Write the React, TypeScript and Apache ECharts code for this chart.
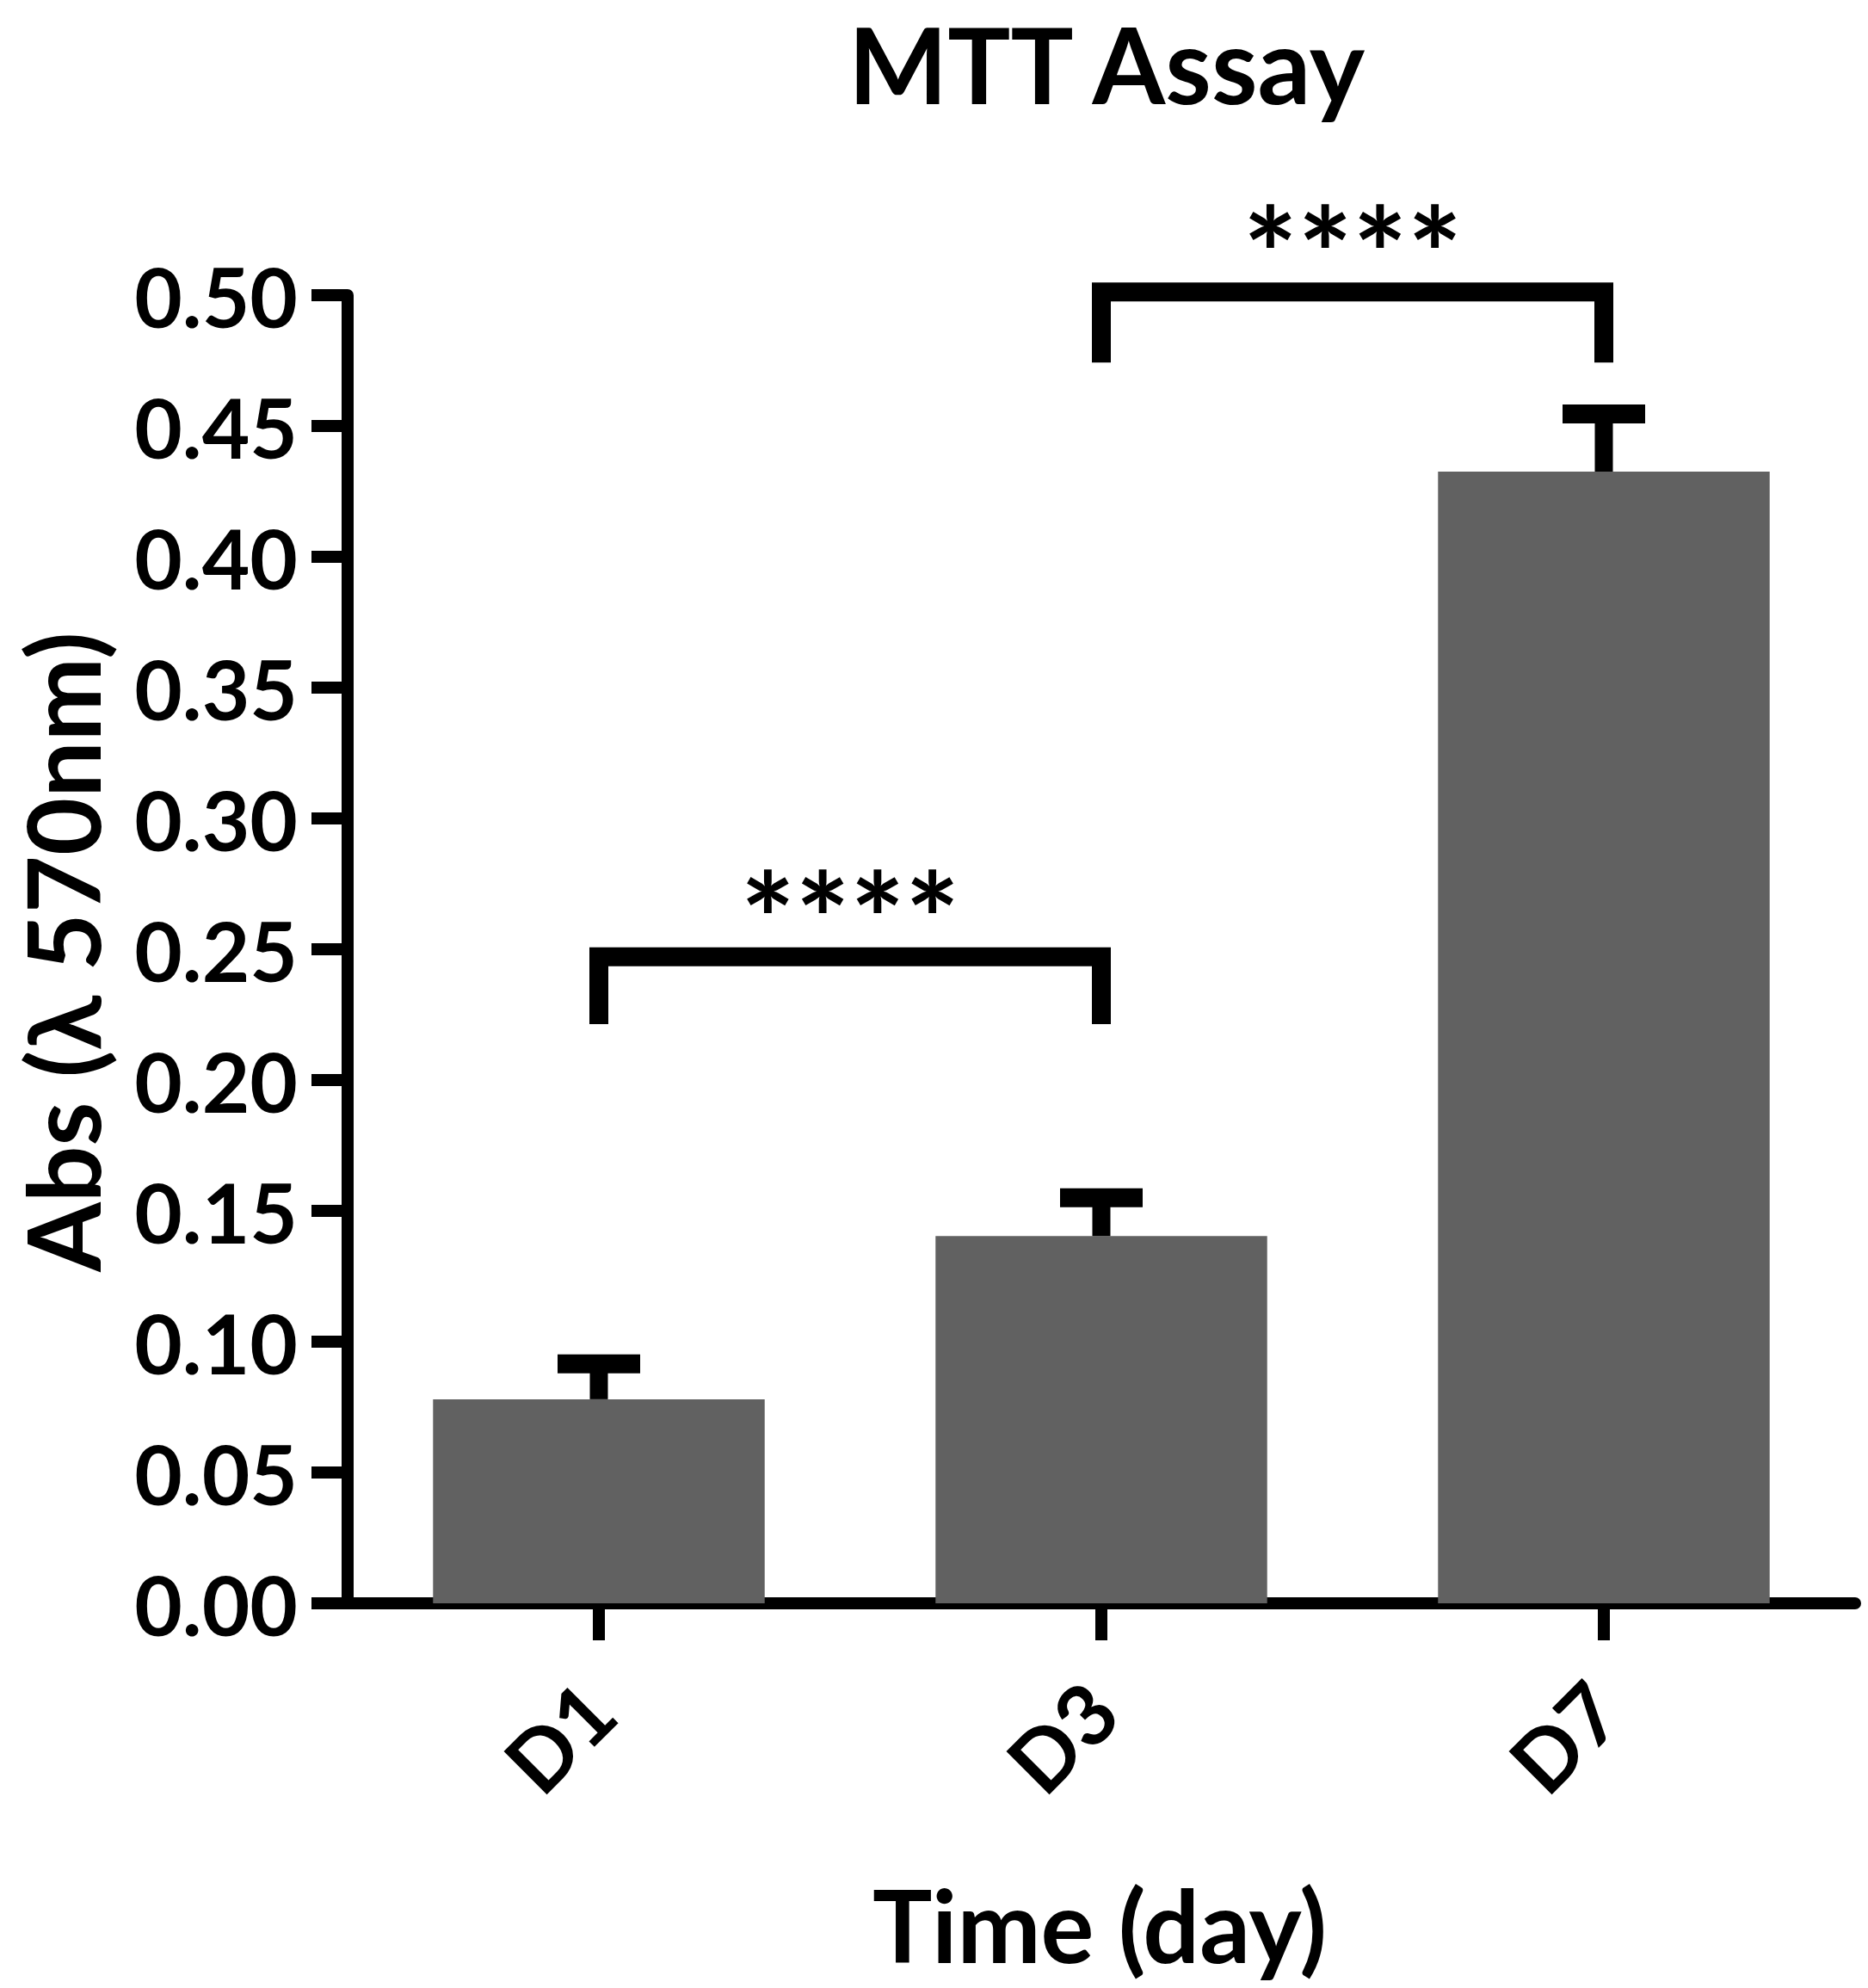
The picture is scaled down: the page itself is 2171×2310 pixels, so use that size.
import React, { useEffect, useRef } from "react";
import * as echarts from "echarts";

const categories = ["D1", "D3", "D7"];
const means = [0.078, 0.1404, 0.4326];
const sds = [0.0135, 0.0146, 0.022];

const yMin = 0;
const yMax = 0.5;
const yInterval = 0.05;

const bracketFrom = [0, 1];
const bracketTo = [1, 2];
const bracketTop = [0.2471, 0.5012];
const bracketLeg = [0.2214, 0.4743];
const bracketLabels = ["****", "****"];

const titleText = "MTT Assay";
const yTitle = "Abs (\u03BB 570nm)";
const xTitle = "Time (day)";

const FONT = "Lato, 'DejaVu Sans', sans-serif";

export default function App() {
  const ref = useRef<HTMLDivElement>(null);
  useEffect(() => {
    document.body.style.margin = "0";
    document.body.style.overflow = "hidden";
    const chart = echarts.init(ref.current!, null, { renderer: "svg" });
    const errData = categories.map((_, i) => [i, means[i], sds[i]]);
    const brData = bracketFrom.map((f, i) => [f, bracketTo[i], bracketTop[i], bracketLeg[i], i]);
    chart.setOption({
      animation: false,
      backgroundColor: "#ffffff",
      grid: {
        left: 404,
        right: 15,
        top: 343,
        bottom: 447,
        containLabel: false,
        outerBoundsMode: "none",
      },
      xAxis: {
        type: "category",
        data: categories,
        boundaryGap: true,
        axisLine: { show: true, lineStyle: { color: "#000", width: 14 } },
        axisTick: { show: true, alignWithLabel: true, length: 43, lineStyle: { color: "#000", width: 14 } },
        axisLabel: {
          rotate: 45,
          margin: 108,
          color: "#000",
          fontFamily: FONT,
          fontWeight: "bold",
          fontSize: 98,
        },
        splitLine: { show: false },
      },
      yAxis: {
        type: "value",
        min: yMin,
        max: yMax,
        interval: yInterval,
        axisLine: { show: true, lineStyle: { color: "#000", width: 14 } },
        axisTick: { show: true, length: 42, lineStyle: { color: "#000", width: 14 } },
        axisLabel: {
          margin: 58,
          color: "#000",
          fontFamily: FONT,
          fontWeight: "bold",
          fontSize: 96,
          formatter: (v: number) => v.toFixed(2),
        },
        splitLine: { show: false },
      },
      graphic: [
        {
          type: "text",
          x: 1286,
          y: 74,
          style: {
            text: titleText,
            fill: "#000",
            font: `bold 122px ${FONT}`,
            align: "center",
            verticalAlign: "middle",
          },
        },
        {
          type: "text",
          x: 72,
          y: 1106,
          rotation: Math.PI / 2,
          style: {
            text: yTitle,
            fill: "#000",
            font: `bold 116px ${FONT}`,
            align: "center",
            verticalAlign: "middle",
          },
        },
        {
          type: "text",
          x: 1278,
          y: 2236,
          style: {
            text: xTitle,
            fill: "#000",
            font: `bold 116px ${FONT}`,
            align: "center",
            verticalAlign: "middle",
          },
        },
      ],
      series: [
        {
          type: "bar",
          data: means,
          barWidth: "66%",
          itemStyle: { color: "#616161" },
          z: 2,
        },
        {
          type: "custom",
          data: errData,
          z: 3,
          renderItem: (params: any, api: any) => {
            const i = api.value(0);
            const m = api.value(1);
            const s = api.value(2);
            const base = api.coord([i, m]);
            const top = api.coord([i, m + s]);
            return {
              type: "group",
              children: [
                {
                  type: "line",
                  shape: { x1: base[0], y1: base[1], x2: top[0], y2: top[1] },
                  style: { stroke: "#000", lineWidth: 21, lineCap: "butt" },
                },
                {
                  type: "line",
                  shape: { x1: top[0] - 48, y1: top[1], x2: top[0] + 48, y2: top[1] },
                  style: { stroke: "#000", lineWidth: 22, lineCap: "butt" },
                },
              ],
            };
          },
        },
        {
          type: "custom",
          data: brData,
          z: 3,
          clip: false,
          renderItem: (params: any, api: any) => {
            const f = api.value(0);
            const t = api.value(1);
            const yt = api.value(2);
            const yl = api.value(3);
            const idx = api.value(4);
            const p1 = api.coord([f, yt]);
            const p2 = api.coord([t, yt]);
            const l1 = api.coord([f, yl]);
            return {
              type: "group",
              children: [
                {
                  type: "polyline",
                  shape: {
                    points: [
                      [p1[0], l1[1]],
                      [p1[0], p1[1]],
                      [p2[0], p2[1]],
                      [p2[0], l1[1]],
                    ],
                  },
                  style: { stroke: "#000", fill: null, lineWidth: 22, lineJoin: "miter", lineCap: "butt" },
                },
                {
                  type: "text",
                  x: (p1[0] + p2[0]) / 2,
                  y: p1[1] - 46,
                  style: {
                    text: bracketLabels[idx],
                    fill: "#000",
                    font: `bold 150px ${FONT}`,
                    align: "center",
                    verticalAlign: "middle",
                  },
                },
              ],
            };
          },
        },
      ],
    });
    return () => chart.dispose();
  }, []);
  return <div ref={ref} style={{ width: 2171, height: 2310 }} />;
}
